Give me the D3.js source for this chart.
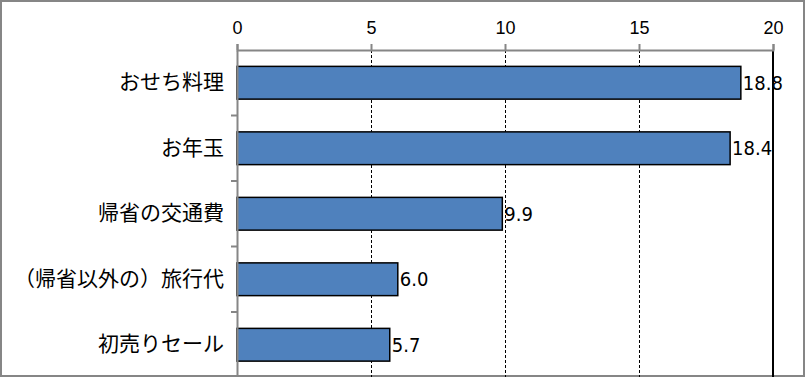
<!DOCTYPE html>
<html>
<head>
<meta charset="utf-8">
<script src="https://cdnjs.cloudflare.com/ajax/libs/d3/7.8.5/d3.min.js"></script>
<style>
  body { margin: 0; background: #fff; }
  .cat { font-family: "Noto Sans CJK JP", sans-serif; font-size: 21px; fill: #000; }
  .tick-x { font-family: "Liberation Sans", Arial, sans-serif; font-size: 18px; fill: #000; }
  .val { font-family: "Liberation Sans Narrow", "DejaVu Sans Condensed", "Liberation Sans", sans-serif; font-size: 20px; fill: #000; }
</style>
</head>
<body>
<div class="chart"></div>
<script>
// chart data
var categories = ["おせち料理", "お年玉", "帰省の交通費", "（帰省以外の）旅行代", "初売りセール"];
var values = [18.8, 18.4, 9.9, 6.0, 5.7];
var tickValues = [0, 5, 10, 15, 20];

var svgWidth = 805;
var svgHeight = 377;
var margin = { top: 50, right: 32, bottom: -0.5, left: 237 };
var width = svgWidth - margin.left - margin.right;
var height = svgHeight - margin.top - margin.bottom;

var svg = d3.select(".chart")
  .append("svg")
  .attr("width", svgWidth)
  .attr("height", svgHeight);

// outer frame
svg.append("rect")
  .attr("x", 1).attr("y", 1)
  .attr("width", svgWidth - 2).attr("height", svgHeight - 2)
  .attr("fill", "none")
  .attr("stroke", "#868686")
  .attr("stroke-width", 2);

var chart = svg.append("g")
  .attr("transform", "translate(" + margin.left + "," + margin.top + ")");

var x = d3.scaleLinear().domain([0, 20]).range([0, width]);
var y = d3.scaleBand().domain(categories).range([0, height]).paddingInner(0.5).paddingOuter(0.25);

// gridlines
chart.selectAll(".grid")
  .data(tickValues.filter(function(d) { return d > 0 && d < 20; }))
  .enter().append("line")
  .attr("x1", function(d) { return x(d) + 0.5; })
  .attr("x2", function(d) { return x(d) + 0.5; })
  .attr("y1", 0).attr("y2", height)
  .attr("stroke", "#000")
  .attr("stroke-width", 1)
  .attr("stroke-dasharray", "3,2");

// right edge line at 20
chart.append("line")
  .attr("x1", x(20)).attr("x2", x(20))
  .attr("y1", 0).attr("y2", height)
  .attr("stroke", "#000")
  .attr("stroke-width", 2);

// bars
chart.selectAll(".bar")
  .data(values)
  .enter().append("rect")
  .attr("x", x(0))
  .attr("y", function(d, i) { return y(categories[i]); })
  .attr("width", function(d) { return x(d) - x(0); })
  .attr("height", y.bandwidth())
  .attr("fill", "#4F81BD")
  .attr("stroke", "#000")
  .attr("stroke-width", 1.5);

// value labels
chart.selectAll(".val")
  .data(values)
  .enter().append("text")
  .attr("class", "val")
  .attr("x", function(d) { return x(d) + 2; })
  .attr("y", function(d, i) { return y(categories[i]) + y.bandwidth() / 2; })
  .attr("dy", "0.36em")
  .text(function(d) { return d.toFixed(1); });

// top axis
var topAxis = d3.axisTop(x).tickValues(tickValues).tickSize(6).tickPadding(10);
var gx = chart.append("g").call(topAxis);
gx.select(".domain").attr("stroke", "#868686").attr("stroke-width", 2);
gx.selectAll(".tick line").attr("stroke", "#868686").attr("stroke-width", 2);
gx.selectAll(".tick text").attr("class", "tick-x").attr("font-size", null).attr("font-family", null);

// left axis
var leftAxis = d3.axisLeft(y).tickSize(0).tickPadding(13);
var gy = chart.append("g").call(leftAxis);
gy.select(".domain").attr("stroke", "#868686").attr("stroke-width", 2);
gy.selectAll(".tick text").attr("class", "cat").attr("font-size", null).attr("font-family", null);

// band boundary ticks on the y axis
var bounds = d3.range(1, categories.length).map(function(i) { return i * y.step(); });
chart.selectAll(".ytick")
  .data(bounds)
  .enter().append("line")
  .attr("x1", -6).attr("x2", 0)
  .attr("y1", function(d) { return d; })
  .attr("y2", function(d) { return d; })
  .attr("stroke", "#868686")
  .attr("stroke-width", 2);
</script>
</body>
</html>
